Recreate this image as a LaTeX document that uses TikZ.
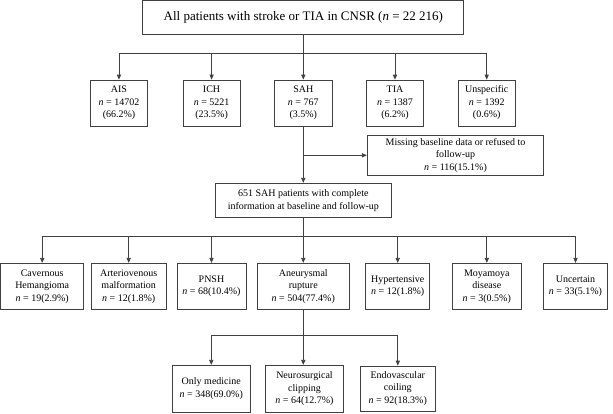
\documentclass[tikz,border=0pt]{standalone}
\usepackage{fontspec}
\setmainfont{Liberation Serif}
\usetikzlibrary{arrows.meta,calc}
\definecolor{linecol}{gray}{0.25}
\tikzset{
  box/.style={draw=linecol, line width=0.8pt, align=center, inner sep=0pt,
    font=\fontsize{10}{12.5}\selectfont, text=black},
  conn/.style={draw=linecol, line width=0.8pt},
  arr/.style={conn, -{Triangle[length=5pt,width=4.2pt]}}
}
\newcommand{\nn}{\textit{n}}
\begin{document}
\begin{tikzpicture}[x=1pt,y=-1pt]
\useasboundingbox (0,0) rectangle (613,413);
% top
\node[box, minimum width=321pt, minimum height=34pt, font=\fontsize{13}{15}\selectfont] (top) at (303.3,17.3) {All patients with stroke or TIA in CNSR (\nn{} = 22 216)};
% row 1
\node[box, minimum width=57.4pt, minimum height=46pt] (ais) at (119,103) {AIS\\\nn{} = 14702\\(66.2\%)};
\node[box, minimum width=57.4pt, minimum height=46pt] (ich) at (211.6,103) {ICH\\\nn{} = 5221\\(23.5\%)};
\node[box, minimum width=57.4pt, minimum height=46pt] (sah) at (303.3,103) {SAH\\\nn{} = 767\\(3.5\%)};
\node[box, minimum width=57.4pt, minimum height=46pt] (tia) at (395,103) {TIA\\\nn{} = 1387\\(6.2\%)};
\node[box, minimum width=57.4pt, minimum height=46pt] (uns) at (486.7,103) {Unspecific\\\nn{} = 1392\\(0.6\%)};
% missing
\node[box, minimum width=176.4pt, minimum height=40pt] (miss) at (455.5,155.3) {Missing baseline data or refused to\\follow-up\\\nn{} = 116(15.1\%)};
% 651
\node[box, minimum width=176.7pt, minimum height=34.4pt] (sel) at (303.3,200.5) {651 SAH patients with complete\\information at baseline and follow-up};
% row 3
\node[box, minimum width=83pt, minimum height=46pt] (cav) at (42.2,286.3) {Cavernous\\Hemangioma\\\nn{} = 19(2.9\%)};
\node[box, minimum width=74.7pt, minimum height=46pt] (avm) at (128.7,286.3) {Arteriovenous\\malformation\\\nn{} = 12(1.8\%)};
\node[box, minimum width=69pt, minimum height=46pt] (pnsh) at (211.5,286.3) {PNSH\\\nn{} = 68(10.4\%)};
\node[box, minimum width=92.7pt, minimum height=46pt] (aneu) at (303.3,286.3) {Aneurysmal\\rupture\\\nn{} = 504(77.4\%)};
\node[box, minimum width=64pt, minimum height=46pt] (hyp) at (397.7,286.3) {Hypertensive\\\nn{} = 12(1.8\%)};
\node[box, minimum width=69pt, minimum height=46pt] (moya) at (486.8,286.3) {Moyamoya\\disease\\\nn{} = 3(0.5\%)};
\node[box, minimum width=63.6pt, minimum height=46pt] (unc) at (575.5,286.3) {Uncertain\\\nn{} = 33(5.1\%)};
% bottom row
\node[box, minimum width=78pt, minimum height=47pt] (med) at (211.3,388.8) {Only medicine\\\nn{} = 348(69.0\%)};
\node[box, minimum width=78.4pt, minimum height=47pt] (clip) at (304.5,388.8) {Neurosurgical\\clipping\\\nn{} = 64(12.7\%)};
\node[box, minimum width=74.3pt, minimum height=45pt] (coil) at (397.8,388.5) {Endovascular\\coiling\\\nn{} = 92(18.3\%)};
% junction coordinates
\coordinate (j1) at (303.3,53.3);
\coordinate (j2) at (303.3,236.7);
\coordinate (j3) at (303.3,335);
% connectors level 1
\draw[conn] (top.south) -- (j1);
\draw[conn] (j1 -| ais.north) -- (j1 -| uns.north);
\foreach \b in {ais,ich,sah,tia,uns} \draw[arr] (j1 -| \b.north) -- (\b.north);
% SAH to selected, with exclusion branch
\draw[arr] (sah.south) -- (sel.north);
\draw[arr] (sah.south |- miss.west) -- (miss.west);
% level 3
\draw[conn] (sel.south) -- (j2);
\draw[conn] (j2 -| cav.north) -- (j2 -| unc.north);
\foreach \b in {cav,avm,pnsh,aneu,hyp,moya,unc} \draw[arr] (j2 -| \b.north) -- (\b.north);
% level 4
\draw[conn] (aneu.south) -- (j3);
\draw[conn] (j3 -| med.north) -- (j3 -| coil.north);
\draw[arr] (j3 -| med.north) -- (med.north);
\draw[arr] (j3) -- (j3 |- clip.north);
\draw[arr] (j3 -| coil.north) -- (coil.north);
\end{tikzpicture}
\end{document}
